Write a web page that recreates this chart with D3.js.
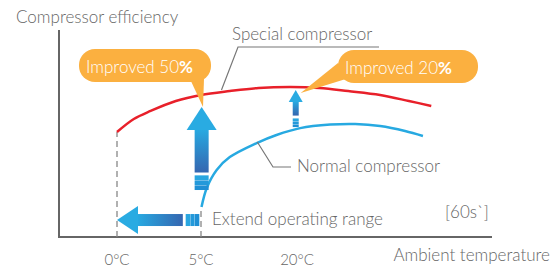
<!DOCTYPE html>
<html>
<head>
<meta charset="utf-8">
<title>Compressor efficiency</title>
<script src="https://cdn.jsdelivr.net/npm/d3@7"></script>
<style>
  body { margin: 0; background: #fff; }
  svg text { font-family: Lato, "Open Sans", sans-serif; font-weight: 300; fill: #666; }
  .bubble text { fill: #fff; }
</style>
</head>
<body>
<script>
// ambient temperature (°C) and relative efficiency (0..100)
var specialTemp = [0, 1, 2, 3.5, 5, 9.5, 14, 19, 23.5, 28, 33, 37.5, 41];
var specialEff  = [50.7, 57, 60.9, 65.7, 68.6, 70.5, 72, 72.5, 72, 70.5, 68.6, 65.7, 63.3];
var normalTemp  = [5.08, 5.9, 7.45, 9.5, 13.7, 16.8, 20.5, 25.2, 29.1, 33, 36.9, 39.7];
var normalEff   = [14.5, 23.7, 32.4, 38.6, 45.4, 49.3, 52.6, 54.3, 54.6, 53.6, 51.2, 48.8];
var tickTemps   = [0, 5, 20];
var tickLabels  = ["0°C", "5°C", "20°C"];

var width = 552, height = 269;
var svg = d3.select("body").append("svg")
    .attr("width", width).attr("height", height);

// x axis is not linear in the original: 0..5 is stretched
var x = d3.scaleLinear().domain([-3.5, 0, 5, 20, 50.5]).range([59, 117, 201, 297, 492]);
var y = d3.scaleLinear().domain([0, 100]).range([237, 30]);

var defs = svg.append("defs");
var grad = defs.append("linearGradient").attr("id", "shaftGrad")
    .attr("x1", 0).attr("y1", 0).attr("x2", 1).attr("y2", 0);
grad.append("stop").attr("offset", "0%").attr("stop-color", "#3566b0");
grad.append("stop").attr("offset", "100%").attr("stop-color", "#27a9e1");

// ---- axes
svg.append("path")
    .attr("d", "M" + x(-3.5) + "," + y(100) + "V" + y(0) + "H" + x(50.5))
    .attr("fill", "none").attr("stroke", "#666").attr("stroke-width", 2);

svg.selectAll("text.tick").data(tickTemps).enter().append("text")
    .attr("class", "tick")
    .attr("x", function(d) { return x(d); })
    .attr("y", 265)
    .attr("text-anchor", "middle")
    .style("font-size", "15px")
    .text(function(d, i) { return tickLabels[i]; });

svg.append("text").attr("x", 16).attr("y", 23).style("font-size", "17px")
    .text("Compressor efficiency");
svg.append("text").attr("x", 550).attr("y", 261).attr("text-anchor", "end")
    .style("font-size", "17px").text("Ambient temperature");

// ---- dashed guides
svg.append("line")
    .attr("x1", x(0)).attr("x2", x(0)).attr("y1", y(0)).attr("y2", y(specialEff[0]))
    .attr("stroke", "#888").attr("stroke-width", 1.3).attr("stroke-dasharray", "6,4");
svg.append("line")
    .attr("x1", x(5)).attr("x2", x(5)).attr("y1", y(0)).attr("y2", y(normalEff[0]))
    .attr("stroke", "#888").attr("stroke-width", 1.3).attr("stroke-dasharray", "6,4");

// ---- curves
var line = d3.line().curve(d3.curveCatmullRom.alpha(0.5))
    .x(function(d) { return x(d[0]); })
    .y(function(d) { return y(d[1]); });

svg.append("path")
    .attr("d", line(d3.zip(specialTemp, specialEff)))
    .attr("fill", "none").attr("stroke", "#e8202a").attr("stroke-width", 2.5);
svg.append("path")
    .attr("d", line(d3.zip(normalTemp, normalEff)))
    .attr("fill", "none").attr("stroke", "#27a9e1").attr("stroke-width", 2.5);

// ---- arrows (tail -> tip, in data units)
function arrow(t0, e0, t1, e1, headW, headL, shaftW, blockL) {
  var x0 = x(t0), y0 = y(e0), x1 = x(t1), y1 = y(e1);
  var len = Math.hypot(x1 - x0, y1 - y0);
  var ang = Math.atan2(y1 - y0, x1 - x0) * 180 / Math.PI;
  var g = svg.append("g").attr("transform", "translate(" + x0 + "," + y0 + ") rotate(" + ang + ")");
  var n = 3, seg = blockL / n;
  var shades = ["#1f8fd4", "#2399da", "#29a6e0"];
  for (var k = 0; k < n; k++) {
    g.append("rect").attr("x", k * seg).attr("y", -shaftW / 2)
      .attr("width", seg - 0.35).attr("height", shaftW)
      .attr("fill", shades[k]);
  }
  var s0 = blockL + 2.5;
  g.append("rect").attr("x", s0).attr("y", -shaftW / 2)
    .attr("width", len - headL - s0 + 0.5).attr("height", shaftW)
    .attr("fill", "url(#shaftGrad)");
  g.append("path")
    .attr("d", "M" + (len - headL) + "," + (-headW / 2) + "L" + len + ",0L" + (len - headL) + "," + (headW / 2) + "Z")
    .attr("fill", "#29abe2");
}

// ---- leader lines
svg.append("polyline")
  .attr("points", [[x(13.8), y(45.4) - 1], [273, 167], [291, 167]].map(String).join(" "))
  .attr("fill", "none").attr("stroke", "#777").attr("stroke-width", 1.2);
svg.append("polyline")
  .attr("points", [[x(8.2), y(71)], [238, 47], [379, 47]].map(String).join(" "))
  .attr("fill", "none").attr("stroke", "#777").attr("stroke-width", 1.2);

svg.append("text").attr("x", 232).attr("y", 40).style("font-size", "17px").text("Special compressor");
svg.append("text").attr("x", 297).attr("y", 172).style("font-size", "17px").text("Normal compressor");
svg.append("text").attr("x", 212).attr("y", 225).style("font-size", "17px").text("Extend operating range");
svg.append("text").attr("x", 445).attr("y", 218).style("font-size", "17px").text("[60s`]");

// ---- callout bubbles
function bubble(bx, by, bw, tail, label, pct) {
  var g = svg.append("g").attr("class", "bubble");
  g.append("path").attr("d", "M" + tail.map(String).join("L") + "Z").attr("fill", "#fbb040");
  g.append("rect").attr("x", bx).attr("y", by).attr("width", bw).attr("height", 33)
    .attr("rx", 16).attr("fill", "#fbb040");
  var t = g.append("text").attr("x", bx + 7).attr("y", by + 24).style("font-size", "17px");
  t.append("tspan").text(label);
  t.append("tspan").style("font-weight", 700).text(pct);
}

bubble(79, 49, 132, [[190, 79], [203, y(62.8)], [204, 79]], "Improved 50", "%");
bubble(338, 50, 140, [[338, 63], [x(19.8) + 5, y(71) + 3], [349, 78]], "Improved 20", "%");

arrow(5.1, 22.7, 5.1, 62.8, 30, 23, 14, 15);
arrow(19.8, 53.1, 19.8, 71, 14, 12, 6, 9);
arrow(4.9, 8.2, 0, 8.2, 28, 21, 12, 14);
</script>
</body>
</html>
